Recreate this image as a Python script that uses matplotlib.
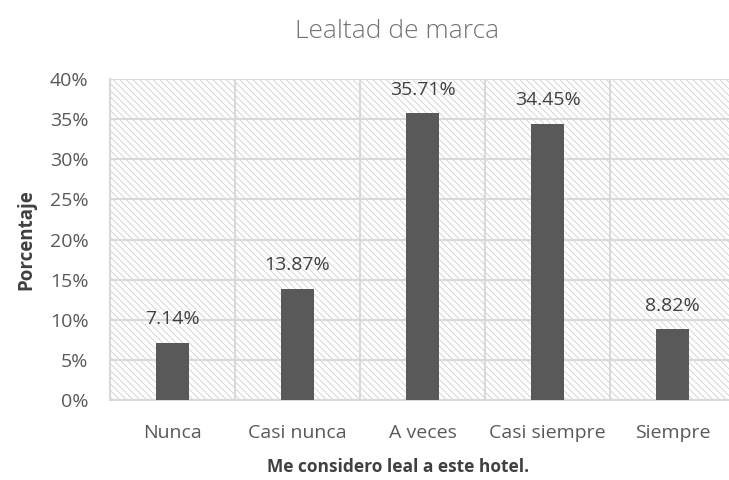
import matplotlib
matplotlib.use("Agg")
import matplotlib.pyplot as plt
from matplotlib.ticker import PercentFormatter

categories = ["Nunca", "Casi nunca", "A veces", "Casi siempre", "Siempre"]
values = [7.14, 13.87, 35.71, 34.45, 8.82]
labels = ["7.14%", "13.87%", "35.71%", "34.45%", "8.82%"]
yticks = [0, 5, 10, 15, 20, 25, 30, 35, 40]

plt.rcParams['font.family'] = ['Open Sans', 'DejaVu Sans']
plt.rcParams['hatch.linewidth'] = 0.6

fig = plt.figure(figsize=(7.29, 4.80), dpi=100)
ax = fig.add_axes([110/729, 1-400/480, 625/729, 321/480])

ax.set_xlim(-0.5, len(categories) - 0.5)
ax.set_ylim(0, 40)

# hatched background
ax.patch.set_facecolor('white')
ax.bar([2], [40], width=5, bottom=0, facecolor='white', edgecolor='#d0d0d0',
       linewidth=0, hatch='\\\\\\\\\\', zorder=0)

x = list(range(len(categories)))
ax.bar(x, values, width=0.27, color='#595959', zorder=3)
for xi, v, lab in zip(x, values, labels):
    ax.text(xi, v + 1.8, lab, ha='center', va='bottom', fontsize=14, color='#404040', zorder=4)

ax.set_yticks(yticks)
ax.yaxis.set_major_formatter(PercentFormatter(decimals=0))
ax.set_xticks(x)
ax.set_xticklabels(categories)
ax.set_xticks([i + 0.5 for i in range(-1, len(categories))], minor=True)
ax.grid(True, which='major', axis='y', color='#d9d9d9', linewidth=1.5, zorder=1)
ax.grid(True, which='minor', axis='x', color='#d9d9d9', linewidth=1.5, zorder=1)
ax.tick_params(axis='both', which='both', length=0, labelsize=14, colors='#595959')
ax.tick_params(axis='x', pad=17)
ax.tick_params(axis='y', pad=15.5)
for s in ax.spines.values():
    s.set_visible(False)
for side in ('bottom', 'left'):
    ax.spines[side].set_visible(True)
    ax.spines[side].set_color('#d9d9d9')
    ax.spines[side].set_linewidth(1.5)

fig.text(26/729, 1 - 240/480, 'Porcentaje', rotation=90, ha='center', va='center',
         fontsize=13.5, fontweight='bold', color='#404040')
fig.text(398/729, 1 - 467/480, 'Me considero leal a este hotel.', ha='center', va='center',
         fontsize=12.5, fontweight='bold', color='#404040')
fig.text(397/729, 1 - 31/480, 'Lealtad de marca', ha='center', va='center',
         fontsize=19, color='#737373', fontweight='light')

fig.savefig('out.png', dpi=100)
